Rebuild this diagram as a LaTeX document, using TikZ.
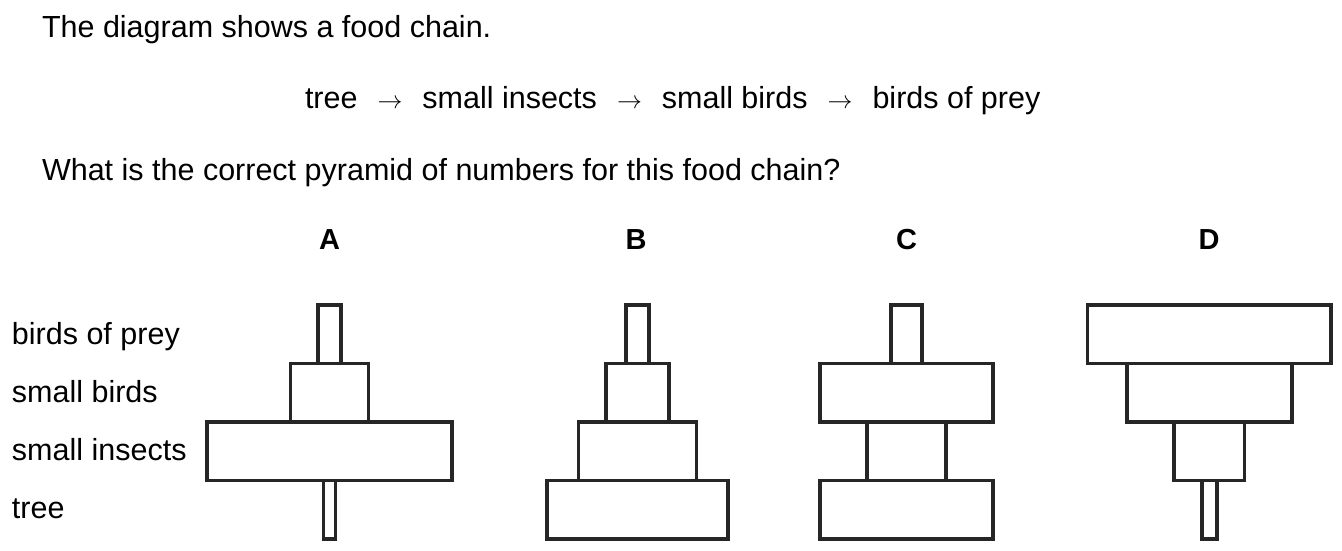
\documentclass[tikz,border=0pt]{standalone}
\usepackage{fontspec}
\setmainfont{Liberation Sans}
\definecolor{boxline}{RGB}{38,38,38}
\begin{document}
\begin{tikzpicture}[x=1pt,y=-1pt,
  txt/.style={anchor=base west,inner sep=0pt,outer sep=0pt,font=\fontsize{30.5}{36}\selectfont},
  lab/.style={anchor=base,inner sep=0pt,outer sep=0pt,font=\fontsize{29}{36}\selectfont\bfseries},
  bar/.style={draw=boxline,line width=3.6pt,inner sep=0pt,outer sep=0pt,minimum height=58.5pt,anchor=center}]
\fill[white] (0,0) rectangle (1342,550);
\useasboundingbox (0,0) rectangle (1342,550);
% texts
\node[txt] (t1) at (42,37) {The diagram shows a food chain.};
\node[txt] (t2) at (305,108) {tree\hspace{20pt}$\rightarrow$\hspace{20pt}small insects\hspace{20pt}$\rightarrow$\hspace{20pt}small birds\hspace{20pt}$\rightarrow$\hspace{20pt}birds of prey};
\node[txt] (t3) at (42,180) {What is the correct pyramid of numbers for this food chain?};
\node[lab] (lA) at (329.5,249) {A};
\node[lab] (lB) at (636,249) {B};
\node[lab] (lC) at (906.5,249) {C};
\node[lab] (lD) at (1209,249) {D};
\node[txt] (r1) at (12,344) {birds of prey};
\node[txt] (r2) at (12,402) {small birds};
\node[txt] (r3) at (12,460) {small insects};
\node[txt] (r4) at (12,518) {tree};
% A
\node[bar,minimum width=23pt] (A1) at (329.5,334.25) {};
\node[bar,minimum width=78pt] (A2) at (329.5,392.75) {};
\node[bar,minimum width=245pt] (A3) at (329.5,451.25) {};
\node[bar,minimum width=12pt] (A4) at (329.5,509.75) {};
% B
\node[bar,minimum width=23.5pt] (B1) at (637.5,334.25) {};
\node[bar,minimum width=63.5pt] (B2) at (637.5,392.75) {};
\node[bar,minimum width=118pt] (B3) at (637.5,451.25) {};
\node[bar,minimum width=181pt] (B4) at (637.5,509.75) {};
% C
\node[bar,minimum width=31.5pt] (C1) at (906.5,334.25) {};
\node[bar,minimum width=173pt] (C2) at (906.5,392.75) {};
\node[bar,minimum width=79pt] (C3) at (906.5,451.25) {};
\node[bar,minimum width=173pt] (C4) at (906.5,509.75) {};
% D
\node[bar,minimum width=243.5pt] (D1) at (1209.3,334.25) {};
\node[bar,minimum width=165pt] (D2) at (1209.3,392.75) {};
\node[bar,minimum width=70.5pt] (D3) at (1209.3,451.25) {};
\node[bar,minimum width=15pt] (D4) at (1209.3,509.75) {};
\end{tikzpicture}
\end{document}
